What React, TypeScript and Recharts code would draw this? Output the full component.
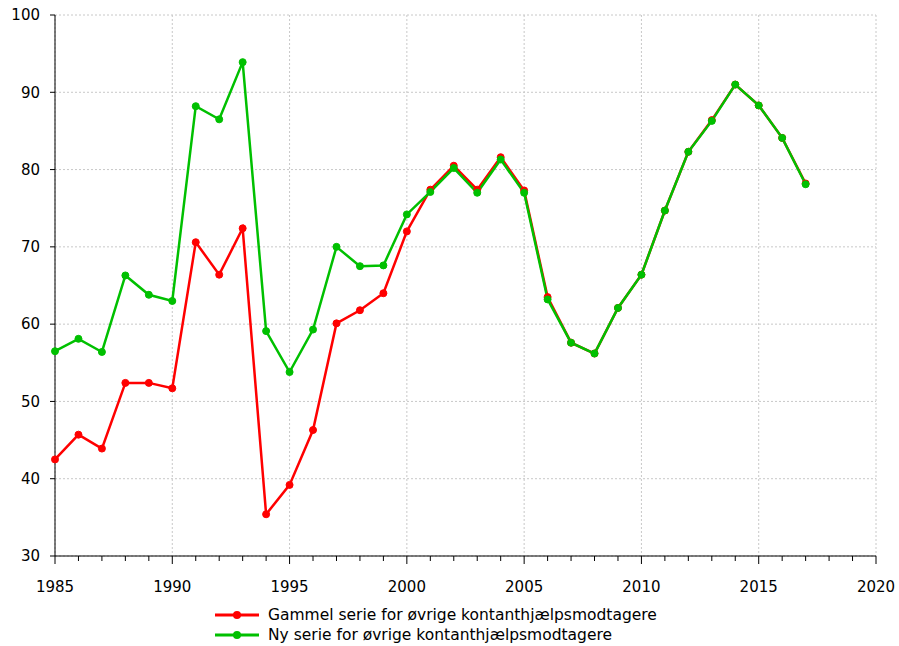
import React from "react";
import {
  LineChart,
  Line,
  XAxis,
  YAxis,
  CartesianGrid,
  Legend,
} from "recharts";

const years = [
  1985, 1986, 1987, 1988, 1989, 1990, 1991, 1992, 1993, 1994, 1995, 1996,
  1997, 1998, 1999, 2000, 2001, 2002, 2003, 2004, 2005, 2006, 2007, 2008,
  2009, 2010, 2011, 2012, 2013, 2014, 2015, 2016, 2017,
];

const gammel = [
  42.5, 45.7, 43.9, 52.4, 52.4, 51.7, 70.6, 66.4, 72.4, 35.4, 39.2, 46.3,
  60.1, 61.8, 64.0, 72.0, 77.4, 80.5, 77.4, 81.6, 77.3, 63.5, 57.6, 56.2,
  62.1, 66.4, 74.7, 82.3, 86.4, 91.0, 88.3, 84.1, 78.2,
];

const ny = [
  56.5, 58.1, 56.4, 66.3, 63.8, 63.0, 88.2, 86.5, 93.9, 59.1, 53.8, 59.3,
  70.0, 67.5, 67.6, 74.2, 77.1, 80.2, 77.0, 81.3, 77.0, 63.2, 57.6, 56.2,
  62.1, 66.4, 74.7, 82.3, 86.3, 91.0, 88.3, 84.1, 78.1,
];

const seriesNames = [
  "Gammel serie for øvrige kontanthjælpsmodtagere",
  "Ny serie for øvrige kontanthjælpsmodtagere",
];
const seriesColors = ["#ff0000", "#00c000"];

const xTicks = Array.from({ length: 36 }, (_, i) => 1985 + i);
const xMajor = [1985, 1990, 1995, 2000, 2005, 2010, 2015, 2020];
const yTicks = [30, 40, 50, 60, 70, 80, 90, 100];

const data = years.map((year, i) => ({
  year,
  gammel: gammel[i],
  ny: ny[i],
}));

const FONT = "'DejaVu Sans', Verdana, sans-serif";

// year ticks: long mark + label every 5 years, short mark otherwise
function YearTick(props: any) {
  const { x, y, payload } = props;
  const major = payload.value % 5 === 0;
  return (
    <g>
      <line x1={x} x2={x} y1={y} y2={y + (major ? 8 : 5)} stroke="#000" />
      {major && (
        <text
          x={x}
          y={y + 36}
          textAnchor="middle"
          fill="#000"
          fontSize={15}
          fontFamily={FONT}
        >
          {payload.value}
        </text>
      )}
    </g>
  );
}

function LegendBox() {
  return (
    <div style={{ fontFamily: FONT, fontSize: 15.5, color: "#000" }}>
      {seriesNames.map((name, i) => (
        <div
          key={name}
          style={{ display: "flex", alignItems: "center", height: 20 }}
        >
          <svg width={53} height={20}>
            <line
              x1={0}
              x2={44}
              y1={10}
              y2={10}
              stroke={seriesColors[i]}
              strokeWidth={3}
            />
            <circle cx={22} cy={10} r={4} fill={seriesColors[i]} />
          </svg>
          <span>{name}</span>
        </div>
      ))}
    </div>
  );
}

export default function App() {
  return (
    <div style={{ position: "absolute", left: 0, top: 0 }}>
      <LineChart
        width={899}
        height={646}
        data={data}
        margin={{ top: 15, right: 23, left: 0, bottom: 0 }}
      >
        <CartesianGrid
          stroke="#c8c8c8"
          strokeDasharray="2 2"
          verticalValues={xMajor}
          horizontalValues={yTicks}
        />
        <XAxis
          dataKey="year"
          type="number"
          domain={[1985, 2020]}
          ticks={xTicks}
          interval={0}
          height={50}
          tickSize={0}
          tickMargin={0}
          tickLine={false}
          tick={<YearTick />}
          axisLine={{ stroke: "#000" }}
        />
        <YAxis
          domain={[30, 100]}
          ticks={yTicks}
          width={55}
          tickSize={5}
          tickMargin={10}
          interval={0}
          tickLine={{ stroke: "#000" }}
          axisLine={{ stroke: "#000" }}
          tick={{ fill: "#000", fontSize: 15, fontFamily: FONT }}
        />
        <Legend
          layout="vertical"
          align="center"
          verticalAlign="bottom"
          content={<LegendBox />}
          wrapperStyle={{ left: 215, top: 605, width: "auto", bottom: "auto" }}
        />
        <Line
          dataKey="gammel"
          name={seriesNames[0]}
          stroke={seriesColors[0]}
          strokeWidth={2.5}
          dot={{ r: 3.5, fill: seriesColors[0], stroke: seriesColors[0], strokeWidth: 1 }}
          isAnimationActive={false}
        />
        <Line
          dataKey="ny"
          name={seriesNames[1]}
          stroke={seriesColors[1]}
          strokeWidth={2.5}
          dot={{ r: 3.5, fill: seriesColors[1], stroke: seriesColors[1], strokeWidth: 1 }}
          isAnimationActive={false}
        />
      </LineChart>
    </div>
  );
}
